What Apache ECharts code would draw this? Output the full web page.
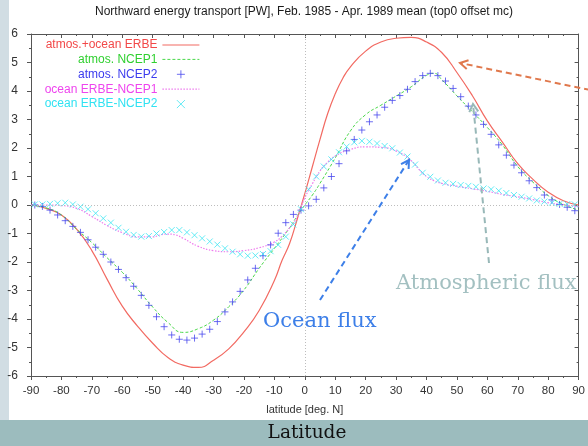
<!DOCTYPE html>
<html><head><meta charset="utf-8">
<script src="https://cdn.jsdelivr.net/npm/echarts@6/dist/echarts.min.js"></script>
<style>html,body{margin:0;padding:0;background:#fff}#c{width:588px;height:446px}</style>
</head><body><div id="c"></div>
<script>
// ---- tick values ----
const latTicks = [-90,-80,-70,-60,-50,-40,-30,-20,-10,0,10,20,30,40,50,60,70,80,90];
const fluxTicks = [-6,-5,-4,-3,-2,-1,0,1,2,3,4,5,6];

// ---- series names ----
const seriesNames = ['atmos.+ocean ERBE','atmos. NCEP1','atmos. NCEP2','ocean ERBE-NCEP1','ocean ERBE-NCEP2'];

// ---- atmos.+ocean ERBE (line) ----
const erbeLat = [-90,-85,-80,-75,-70,-65,-60,-55,-50,-45,-40,-35,-30,-25,-20,-15,-10,-7.5,-5,-2.5,0,2.5,5,7.5,10,12.5,15,20,25,30,35,40,45,50,55,60,65,70,75,80,85,90];
const erbeVal = [0,-0.12,-0.35,-0.85,-1.6,-2.6,-3.55,-4.25,-4.85,-5.35,-5.62,-5.7,-5.45,-5.05,-4.45,-3.7,-2.65,-1.95,-1.35,-0.5,0.4,1.35,2.3,3.2,3.9,4.45,4.85,5.4,5.72,5.85,5.88,5.72,5.35,4.65,3.85,2.95,2.2,1.45,0.9,0.45,0.15,0];

// ---- atmos. NCEP1 (dashed line) ----
const ncep1Lat = [-90,-85,-80,-75,-70,-65,-60,-55,-50,-45,-40,-35,-30,-25,-20,-15,-10,-5,-2.5,0,2.5,5,10,15,20,25,30,35,40,42.5,45,50,55,60,65,70,75,80,85,90];
const ncep1Val = [0,-0.1,-0.35,-0.85,-1.32,-1.85,-2.36,-2.95,-3.58,-4.12,-4.47,-4.34,-4.04,-3.57,-2.98,-2.22,-1.52,-0.8,-0.38,0,0.35,0.76,1.65,2.6,3.17,3.5,3.82,4.15,4.55,4.62,4.4,3.83,3.28,2.72,2.1,1.35,0.8,0.33,0.02,-0.18];

// ---- latitudes of the 2.5 deg marker series ----
const gridLat = [-88.75,-86.25,-83.75,-81.25,-78.75,-76.25,-73.75,-71.25,-68.75,-66.25,-63.75,-61.25,-58.75,-56.25,-53.75,-51.25,-48.75,-46.25,-43.75,-41.25,-38.75,-36.25,-33.75,-31.25,-28.75,-26.25,-23.75,-21.25,-18.75,-16.25,-13.75,-11.25,-8.75,-6.25,-3.75,-1.25,1.25,3.75,6.25,8.75,11.25,13.75,16.25,18.75,21.25,23.75,26.25,28.75,31.25,33.75,36.25,38.75,41.25,43.75,46.25,48.75,51.25,53.75,56.25,58.75,61.25,63.75,66.25,68.75,71.25,73.75,76.25,78.75,81.25,83.75,86.25,88.75];

// ---- atmos. NCEP2 (+ markers) ----
const ncep2Val = [0,-0.05,-0.18,-0.35,-0.55,-0.75,-0.96,-1.22,-1.48,-1.73,-2.0,-2.26,-2.55,-2.85,-3.17,-3.52,-3.92,-4.27,-4.56,-4.71,-4.74,-4.67,-4.53,-4.36,-4.09,-3.75,-3.4,-3.03,-2.63,-2.22,-1.78,-1.4,-0.99,-0.62,-0.33,-0.18,-0.03,0.2,0.6,1.0,1.45,1.9,2.3,2.63,2.92,3.16,3.43,3.67,3.84,4.06,4.33,4.54,4.62,4.54,4.35,4.09,3.8,3.47,3.16,2.83,2.48,2.11,1.75,1.4,1.13,0.85,0.61,0.35,0.18,0.02,-0.08,-0.2];

// ---- ocean ERBE-NCEP1 (dotted line) ----
const ocean1Lat = [-90,-85,-80,-75,-70,-65,-60,-55,-50,-47.5,-45,-42.5,-40,-35,-30,-25,-20,-15,-10,-7.5,-5,-2.5,0,2.5,5,7.5,10,15,20,25,30,35,37.5,40,42.5,45,50,55,60,65,70,75,80,85,90];
const ocean1Val = [0,0,-0.02,-0.12,-0.4,-0.72,-0.97,-1.12,-1.12,-1.05,-1.02,-1.05,-1.17,-1.45,-1.6,-1.64,-1.6,-1.5,-1.3,-1.1,-0.8,-0.42,0.25,0.75,1.2,1.5,1.72,1.95,2.04,2.02,1.9,1.55,1.25,1.0,0.85,0.76,0.66,0.57,0.48,0.37,0.29,0.19,0.08,0.01,-0.06];

// ---- ocean ERBE-NCEP2 (x markers) ----
const ocean2Val = [0.02,0.02,0.04,0.06,0.08,0.02,-0.06,-0.15,-0.29,-0.47,-0.62,-0.8,-0.94,-1.05,-1.11,-1.09,-1.0,-0.95,-0.88,-0.88,-0.96,-1.06,-1.17,-1.28,-1.39,-1.52,-1.64,-1.73,-1.78,-1.77,-1.72,-1.62,-1.4,-1.11,-0.68,-0.15,0.55,1.0,1.35,1.6,1.85,2.05,2.2,2.25,2.22,2.16,2.07,1.99,1.84,1.7,1.42,1.13,0.99,0.86,0.78,0.74,0.7,0.67,0.64,0.58,0.55,0.5,0.42,0.35,0.29,0.23,0.16,0.12,0.08,0.04,0.03,0.02];

const zip = (xs, ys) => xs.map((x, i) => [x, ys[i]]);
const FONT = '"Liberation Sans", Arial, sans-serif';
const SERIF = '"DejaVu Serif", Georgia, serif';
const C = { red:'#f26a62', green:'#4ad84a', blue:'#4848ee', magenta:'#ee7cee', cyan:'#3ee6f2' };
const TXT = { red:'#f24848', green:'#30d030', blue:'#3c3cee', magenta:'#ee44ee', cyan:'#30e2f2' };
const PLUS = 'path://M0,5L10,5M5,0L5,10';
const CROSS = 'path://M0,0L10,10M10,0L0,10';

const chart = echarts.init(document.getElementById('c'), null, {renderer:'canvas'});

function arrow(x1, y1, x2, y2, color, width) {
  const ang = Math.atan2(y2 - y1, x2 - x1);
  const L = 9, a = Math.PI / 6;
  const p1 = [x2 - L * Math.cos(ang - a), y2 - L * Math.sin(ang - a)];
  const p2 = [x2 - L * Math.cos(ang + a), y2 - L * Math.sin(ang + a)];
  return [
    { type:'line', shape:{x1, y1, x2, y2}, style:{stroke:color, lineWidth:width, lineDash:[6,4]}, z:50 },
    { type:'polyline', shape:{points:[p1, [x2, y2], p2]}, style:{stroke:color, lineWidth:width, fill:null}, z:50 }
  ];
}

const axisCommon = {
  type:'value', min: latTicks[0], max: latTicks[latTicks.length-1], interval: latTicks[1]-latTicks[0],
  axisLine:{show:true, onZero:false, lineStyle:{color:'#555', width:1}},
  splitLine:{show:false}
};
const yCommon = {
  type:'value', min: fluxTicks[0], max: fluxTicks[fluxTicks.length-1], interval: fluxTicks[1]-fluxTicks[0],
  axisLine:{show:true, onZero:false, lineStyle:{color:'#555', width:1}},
  splitLine:{show:false}
};

chart.setOption({
  backgroundColor:'#ffffff',
  animation:false,
  title:{
    text:'Northward energy transport [PW], Feb. 1985 - Apr. 1989 mean (top0 offset mc)',
    left:95, top:6, padding:0,
    textStyle:{fontFamily:FONT, fontSize:12, fontWeight:'normal', color:'#1a1a1a'}
  },
  grid:{left:31, top:34, width:553, height:342, containLabel:false},
  legend:{
    orient:'vertical', align:'right', right:388, top:39, padding:0,
    itemWidth:37, itemHeight:8, itemGap:2.4,
    textStyle:{fontFamily:FONT, fontSize:12, lineHeight:10},
    data:[
      {name:seriesNames[0], textStyle:{color:TXT.red}, lineStyle:{width:1.2}, itemStyle:{opacity:0}},
      {name:seriesNames[1], textStyle:{color:TXT.green}, lineStyle:{width:1}, itemStyle:{opacity:0}},
      {name:seriesNames[2], textStyle:{color:TXT.blue}, icon:PLUS, itemStyle:{color:'none', borderColor:C.blue, borderWidth:1}},
      {name:seriesNames[3], textStyle:{color:TXT.magenta}, lineStyle:{width:1.2}, itemStyle:{opacity:0}},
      {name:seriesNames[4], textStyle:{color:TXT.cyan}, icon:CROSS, itemStyle:{color:'none', borderColor:C.cyan, borderWidth:1}}
    ]
  },
  xAxis:[
    Object.assign({}, axisCommon, {
      position:'bottom',
      axisTick:{show:true, inside:false, length:4, lineStyle:{color:'#555'}},
      minorTick:{show:true, splitNumber:2, length:2, lineStyle:{color:'#555'}},
      axisLabel:{fontFamily:FONT, fontSize:11.5, color:'#333', margin:9},
      name:'latitude [deg. N]', nameLocation:'middle', nameGap:28,
      nameTextStyle:{fontFamily:FONT, fontSize:11, color:'#333'}
    }),
    Object.assign({}, axisCommon, {
      position:'top',
      axisTick:{show:true, inside:true, length:4, lineStyle:{color:'#555'}},
      minorTick:{show:true, splitNumber:2, length:2, lineStyle:{color:'#555'}},
      axisLabel:{show:false}
    })
  ],
  yAxis:[
    Object.assign({}, yCommon, {
      position:'left',
      axisTick:{show:true, inside:false, length:4, lineStyle:{color:'#555'}},
      minorTick:{show:true, splitNumber:2, length:2, lineStyle:{color:'#555'}},
      axisLabel:{fontFamily:FONT, fontSize:12, color:'#333', margin:13}
    }),
    Object.assign({}, yCommon, {
      position:'right',
      axisTick:{show:true, inside:true, length:4, lineStyle:{color:'#555'}},
      minorTick:{show:true, splitNumber:2, length:2, lineStyle:{color:'#555'}},
      axisLabel:{show:false}
    })
  ],
  series:[
    {
      name:seriesNames[0], type:'line', smooth:0.5, symbol:'none', showSymbol:false,
      data: zip(erbeLat, erbeVal), color:C.red,
      lineStyle:{color:C.red, width:1.2}, z:3,
      markLine:{
        silent:true, symbol:['none','none'], label:{show:false},
        lineStyle:{color:'#bdbdbd', type:[1,2], width:1},
        data:[{yAxis:0},{xAxis:0}]
      }
    },
    {
      name:seriesNames[1], type:'line', smooth:0.5, symbol:'none', showSymbol:false,
      data: zip(ncep1Lat, ncep1Val), color:C.green,
      lineStyle:{color:C.green, width:1, type:[3,2]}, z:3
    },
    {
      name:seriesNames[2], type:'scatter', symbol:PLUS, symbolSize:7,
      data: zip(gridLat, ncep2Val), color:C.blue,
      itemStyle:{color:'none', borderColor:C.blue, borderWidth:1}, z:4
    },
    {
      name:seriesNames[3], type:'line', smooth:0.5, symbol:'none', showSymbol:false,
      data: zip(ocean1Lat, ocean1Val), color:C.magenta,
      lineStyle:{color:C.magenta, width:1.2, type:[1.5,1.5]}, z:3
    },
    {
      name:seriesNames[4], type:'scatter', symbol:CROSS, symbolSize:6,
      data: zip(gridLat, ocean2Val), color:C.cyan,
      itemStyle:{color:'none', borderColor:C.cyan, borderWidth:1}, z:4
    }
  ],
  graphic:[
    { type:'rect', shape:{x:0, y:0, width:9, height:420}, style:{fill:'#d1dde3'}, z:0, silent:true },
    { type:'rect', shape:{x:0, y:420, width:588, height:26}, style:{fill:'#9cbcbe'}, z:0, silent:true },
    { type:'text', x:307, y:433, style:{text:'Latitude', fill:'#111', font:'18.5px ' + SERIF, align:'center', verticalAlign:'middle'}, z:60 },
    { type:'text', x:396, y:284, style:{text:'Atmospheric flux', fill:'#a3c0c1', font:'21px ' + SERIF, align:'left', verticalAlign:'middle'}, z:60 },
    { type:'text', x:263, y:322, style:{text:'Ocean flux', fill:'#3d7fe8', font:'21px ' + SERIF, align:'left', verticalAlign:'middle'}, z:60 }
  ]
    .concat(arrow(590, 90, 460, 63, '#e0784c', 2))
    .concat(arrow(489, 263, 473, 104, '#98b8b8', 2))
    .concat(arrow(320, 300, 409, 160, '#3d7fe8', 2))
});
</script>
</body></html>
